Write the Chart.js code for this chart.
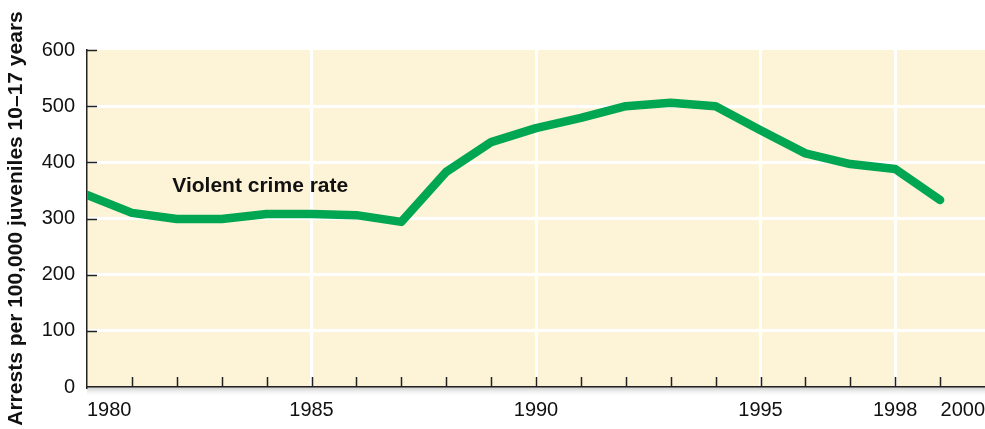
<!DOCTYPE html>
<html>
<head>
<meta charset="utf-8">
<script src="https://cdn.jsdelivr.net/npm/chart.js@4/dist/chart.umd.min.js"></script>
<style>
  html, body { margin: 0; padding: 0; background: #fff; }
  #wrap { width: 985px; height: 429px; }
</style>
</head>
<body>
<div id="wrap"><canvas id="chart"></canvas></div>
<script>
const years = [1980, 1981, 1982, 1983, 1984, 1985, 1986, 1987, 1988, 1989,
               1990, 1991, 1992, 1993, 1994, 1995, 1996, 1997, 1998, 1999];
const violentRate = [342, 310, 299, 299, 308, 308, 306, 294, 383, 436,
                     461, 479, 500, 506, 500, 457, 416, 397, 388, 333];
const xLabels = [1980, 1985, 1990, 1995, 1998, 2000];
const xGridYears = [1985, 1990, 1995, 1998];
const seriesLabel = 'Violent crime rate';
const yTitle = 'Arrests per 100,000 juveniles 10\u201317 years';

const plotBg = '#fdf3d6';
const lineGreen = '#00a651';
const axisDark = '#222';
const fontFamily = '"Liberation Sans", Arial, sans-serif';

// background, axis shadow, inward ticks and the series label
const decor = {
  id: 'decor',
  beforeDraw(chart) {
    const { ctx, chartArea: a } = chart;
    ctx.save();
    ctx.fillStyle = plotBg;
    ctx.fillRect(a.left, a.top, a.right - a.left, a.bottom - a.top);
    const g = ctx.createLinearGradient(0, a.bottom, 0, a.bottom + 10);
    g.addColorStop(0, '#c8c8c8');
    g.addColorStop(1, 'rgba(255,255,255,0)');
    ctx.fillStyle = g;
    ctx.fillRect(a.left, a.bottom, a.right - a.left, 10);
    ctx.restore();
  },
  afterDraw(chart) {
    const { ctx, chartArea: a, scales: { x, y } } = chart;
    ctx.save();
    ctx.strokeStyle = axisDark;
    ctx.lineWidth = 1.5;
    ctx.beginPath();
    for (let yr = 1981; yr <= 1999; yr++) {
      const px = Math.round(x.getPixelForValue(yr)) + 0.5;
      ctx.moveTo(px, a.bottom);
      ctx.lineTo(px, a.bottom - 10);
    }
    for (let v = 100; v <= 600; v += 100) {
      const py = Math.round(y.getPixelForValue(v)) + 0.5;
      ctx.moveTo(a.left, py);
      ctx.lineTo(a.left + 10, py);
    }
    ctx.stroke();
    ctx.fillStyle = '#111';
    ctx.font = 'bold 21px ' + fontFamily;
    ctx.textBaseline = 'middle';
    ctx.fillText(seriesLabel, x.getPixelForValue(1981.9), y.getPixelForValue(358));
    ctx.restore();
  }
};

new Chart(document.getElementById('chart'), {
  type: 'line',
  data: {
    labels: years,
    datasets: [{
      label: seriesLabel,
      data: years.map((yr, i) => ({ x: yr, y: violentRate[i] })),
      borderColor: lineGreen,
      borderWidth: 8.5,
      borderCapStyle: 'round',
      borderJoinStyle: 'round',
      pointRadius: 0,
      tension: 0,
      fill: false
    }]
  },
  options: {
    responsive: true,
    maintainAspectRatio: false,
    animation: false,
    layout: { padding: { top: 50, right: 0, left: 0, bottom: 0 } },
    plugins: { legend: { display: false }, tooltip: { enabled: false } },
    scales: {
      x: {
        type: 'linear',
        min: 1980,
        max: 2000,
        afterBuildTicks(scale) {
          scale.ticks = years.concat([2000]).map(v => ({ value: v }));
        },
        afterFit(scale) {
          scale.height = 42;
          scale.paddingLeft = 0;
          scale.paddingRight = 0;
        },
        ticks: {
          autoSkip: false,
          maxRotation: 0,
          align: 'inner',
          padding: 11,
          color: '#111',
          font: { family: fontFamily, size: 20 },
          callback: v => xLabels.includes(v) ? String(v) : ''
        },
        grid: {
          drawTicks: false,
          lineWidth: 3,
          color: c => (c.tick && xGridYears.includes(c.tick.value)) ? '#ffffff' : 'rgba(0,0,0,0)'
        },
        border: { display: true, color: axisDark, width: 1.5 }
      },
      y: {
        min: 0,
        max: 600,
        afterFit(scale) { scale.width = 87; },
        ticks: {
          stepSize: 100,
          padding: 12,
          color: '#111',
          font: { family: fontFamily, size: 20 }
        },
        grid: {
          drawTicks: false,
          lineWidth: 3,
          color: c => (c.tick && c.tick.value > 0 && c.tick.value < 600) ? '#ffffff' : 'rgba(0,0,0,0)'
        },
        border: { display: true, color: axisDark, width: 1.5 },
        title: {
          display: true,
          text: yTitle,
          color: '#111',
          padding: { top: 4, bottom: 0 },
          font: { family: fontFamily, size: 21, weight: 'bold' }
        }
      }
    }
  },
  plugins: [decor]
});
</script>
</body>
</html>
